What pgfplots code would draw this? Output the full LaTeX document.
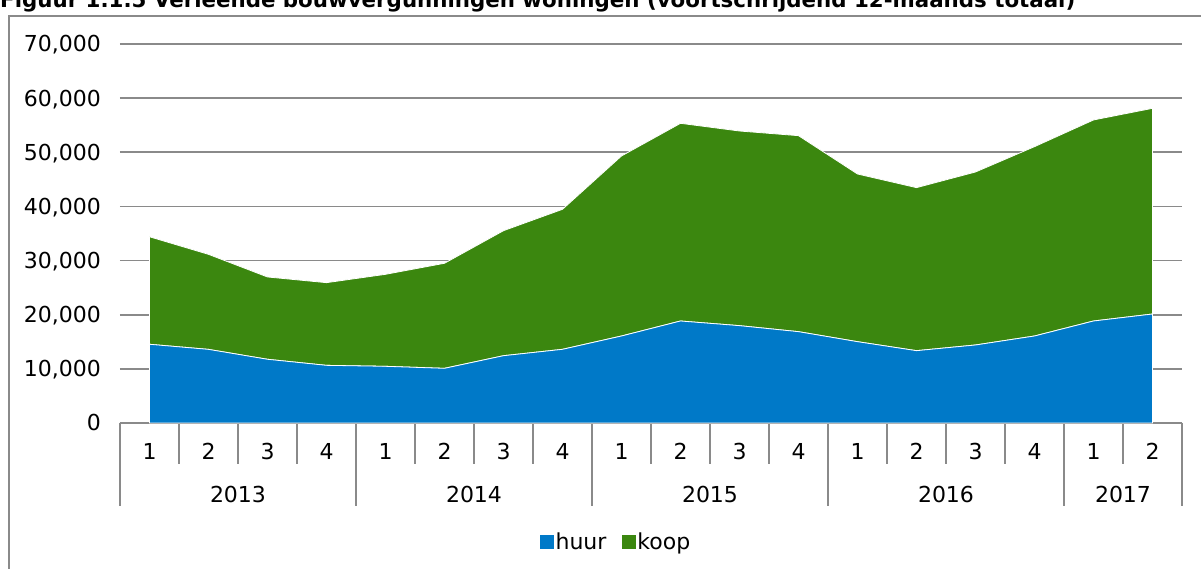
\documentclass[border=0pt]{standalone}
\usepackage{fontspec}
\setmainfont{DejaVu Sans}
\usepackage{pgfplots}
\usepackage{graphicx}
\pgfplotsset{compat=1.18}
\definecolor{huurc}{HTML}{0079C8}
\definecolor{koopc}{HTML}{3B870F}
\definecolor{gridc}{HTML}{8A8A8A}
\begin{document}
\begin{tikzpicture}
\begin{axis}[
  at={(0pt,0pt)}, anchor=south west,
  scale only axis, width=1062pt, height=379pt,
  xmin=-0.5, xmax=17.5, ymin=0, ymax=70000,
  clip=false,
  axis x line*=bottom, axis y line*=left,
  x axis line style={draw=none}, y axis line style={draw=none},
  major tick length=0pt,
  font=\fontsize{22}{26}\selectfont,
  xtick={0,...,17},
  xticklabels={1,2,3,4,1,2,3,4,1,2,3,4,1,2,3,4,1,2},
  xticklabel style={anchor=base, inner sep=0pt, yshift=-37pt},
  ytick={0,10000,...,70000},
  scaled y ticks=false,
  yticklabel style={anchor=base east, inner sep=0pt, xshift=-19pt, yshift=-8pt},
  /pgf/number format/.cd, 1000 sep={,}, assume math mode=true, /pgfplots/.cd,
  ymajorgrids, grid style={color=gridc, line width=1.6pt},
  stack plots=y,
  legend columns=2,
  legend style={at={(0.467,-0.314)}, anchor=center, draw=none, fill=none,
    inner sep=0pt, nodes={inner sep=1.5pt},
    font=\fontsize{22}{26}\selectfont,
    /tikz/every even column/.append style={column sep=14pt}},
  legend image code/.code={\fill[#1,draw=none] (0pt,-7pt) rectangle (14pt,7pt);},
]
\addplot[fill=huurc, draw=white, line width=0.8pt] coordinates {
 (0,14540) (1,13600) (2,11770) (3,10650) (4,10470) (5,10100) (6,12430) (7,13610)
 (8,16070) (9,18840) (10,17980) (11,16870) (12,15020) (13,13360) (14,14410) (15,16070)
 (16,18840) (17,20130)} \closedcycle;
\addlegendentry{huur}
\addplot[fill=koopc, draw=white, line width=0.8pt] coordinates {
 (0,19860) (1,17550) (2,15200) (3,15270) (4,16990) (5,19400) (6,23090) (7,25860)
 (8,33250) (9,36510) (10,35950) (11,36200) (12,30970) (13,30110) (14,31950) (15,34970)
 (16,37130) (17,37990)} \closedcycle;
\addlegendentry{koop}
% x axis line and category separators
\draw[gridc, line width=1.6pt] (axis cs:-0.5,0) -- (axis cs:17.5,0);
\pgfplotsinvokeforeach{-0.5,0.5,1.5,2.5,3.5,4.5,5.5,6.5,7.5,8.5,9.5,10.5,11.5,12.5,13.5,14.5,15.5,16.5,17.5}{
  \draw[gridc, line width=1.6pt] (axis cs:#1,0) -- ++(0pt,-41pt);
}
\pgfplotsinvokeforeach{-0.5,3.5,7.5,11.5,15.5,17.5}{
  \draw[gridc, line width=1.6pt] (axis cs:#1,0) -- ++(0pt,-83pt);
}
\node[anchor=base, inner sep=0pt] at ([yshift=-80pt]axis cs:1.5,0) {2013};
\node[anchor=base, inner sep=0pt] at ([yshift=-80pt]axis cs:5.5,0) {2014};
\node[anchor=base, inner sep=0pt] at ([yshift=-80pt]axis cs:9.5,0) {2015};
\node[anchor=base, inner sep=0pt] at ([yshift=-80pt]axis cs:13.5,0) {2016};
\node[anchor=base, inner sep=0pt] at ([yshift=-80pt]axis cs:16.5,0) {2017};
\end{axis}
\draw[gridc, line width=1.5pt] (-111pt,-170pt) rectangle (1100pt,407pt);
\node[anchor=base west, inner sep=0pt] at (-120pt,415pt)
  {\resizebox{1075pt}{!}{\bfseries Figuur 1.1.5 Verleende bouwvergunningen woningen (voortschrijdend 12-maands totaal)}};
\pgfresetboundingbox
\useasboundingbox (-120pt,-146pt) rectangle (1081pt,423pt);
\end{tikzpicture}
\end{document}
